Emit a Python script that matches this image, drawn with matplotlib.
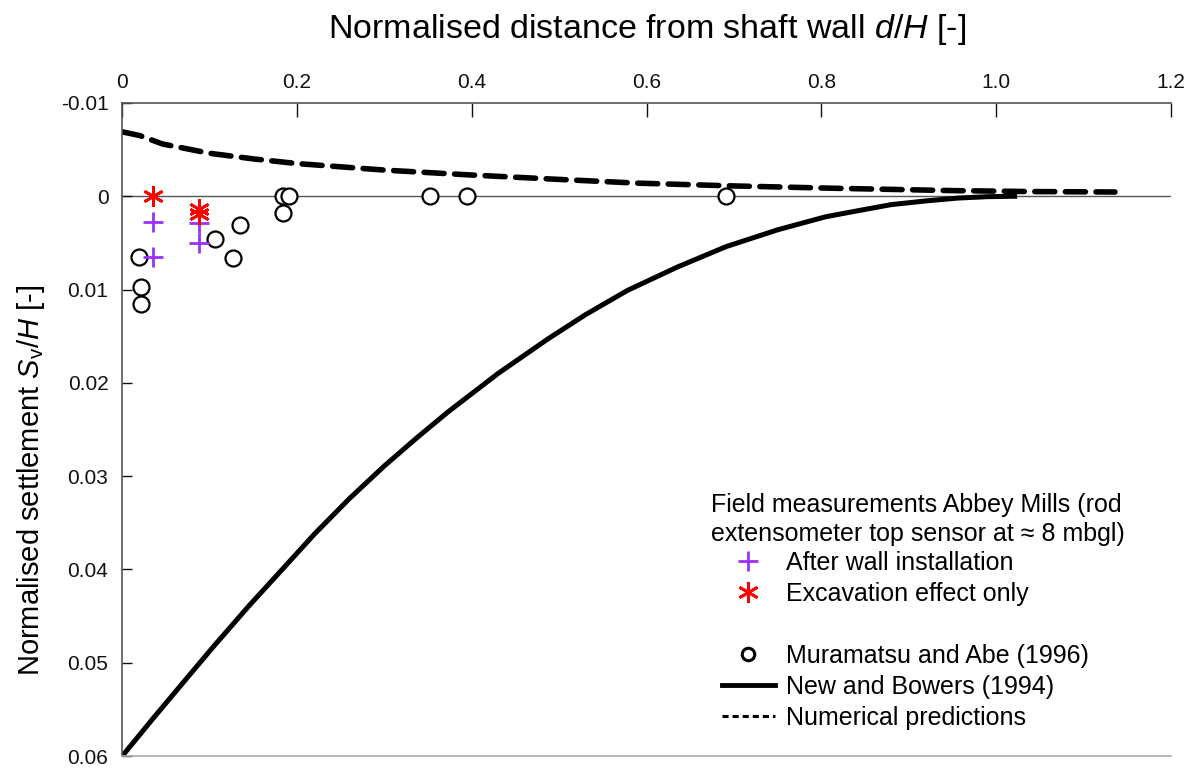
import matplotlib
matplotlib.use("Agg")
import matplotlib.pyplot as plt
from matplotlib.lines import Line2D

plt.rcParams['font.family'] = ['Liberation Sans', 'DejaVu Sans']
plt.rcParams['mathtext.fontset'] = 'custom'
plt.rcParams['mathtext.rm'] = 'Liberation Sans'
plt.rcParams['mathtext.it'] = 'Liberation Sans:italic'

# Muramatsu and Abe (1996)
mur_d = [0.0195, 0.0211, 0.0217, 0.106, 0.1263, 0.1347, 0.1842, 0.1907, 0.1842, 0.352, 0.394, 0.691]
mur_s = [0.0065, 0.0097, 0.0116, 0.0046, 0.0066, 0.0031, 0.0, 0.0, 0.0018, 0.0, 0.0, 0.0]

# Abbey Mills field data
wall_d = [0.0355, 0.0355, 0.0874, 0.0874]
wall_s = [0.0028, 0.0065, 0.0029, 0.0050]
exc_d = [0.0355, 0.0874, 0.0874]
exc_s = [0.0, 0.0014, 0.0019]

# New and Bowers (1994)
nb_d = [0.0, 0.035, 0.069, 0.105, 0.145, 0.185, 0.22, 0.26, 0.30, 0.337, 0.373, 0.43,
        0.487, 0.53, 0.578, 0.635, 0.691, 0.75, 0.805, 0.845, 0.88, 0.92, 0.956, 0.99, 1.024]
nb_s = [0.06, 0.0560, 0.0522, 0.0482, 0.0439, 0.0398, 0.0362, 0.0324, 0.0289, 0.0259, 0.0231, 0.0190,
        0.0153, 0.0127, 0.0101, 0.0076, 0.0054, 0.0036, 0.0022, 0.0015, 0.0009, 0.0005, 0.0002, 0.00005, 0.0]

# numerical predictions
num_d = [0.0, 0.02, 0.046, 0.1, 0.15, 0.2, 0.3, 0.394, 0.5, 0.59, 0.7, 0.816, 0.95, 1.04, 1.136]
num_s = [-0.0069, -0.0065, -0.0056, -0.0046, -0.0040, -0.0035, -0.0028, -0.0023, -0.0018,
         -0.0014, -0.0011, -0.00085, -0.0006, -0.0005, -0.00045]

xticks = [0, 0.2, 0.4, 0.6, 0.8, 1.0, 1.2]
xtick_labels = ['0', '0.2', '0.4', '0.6', '0.8', '1.0', '1.2']
yticks = [-0.01, 0, 0.01, 0.02, 0.03, 0.04, 0.05, 0.06]
ytick_labels = ['-0.01', '0', '0.01', '0.02', '0.03', '0.04', '0.05', '0.06']

purple = '#9B30FF'

fig = plt.figure(figsize=(11.94, 7.68), dpi=100)
ax = fig.add_axes([0.1024, 0.0156, 0.8783, 0.8504])

ax.axhline(0, color='#555555', lw=1.0, zorder=1)
ax.plot(nb_d, nb_s, color='black', lw=3.6, solid_capstyle='butt', solid_joinstyle='round', zorder=2)
ax.plot(num_d, num_s, color='black', lw=4.0, dashes=(3.6, 1.9), dash_capstyle='round', zorder=2)
ax.plot(mur_d, mur_s, 'o', ms=11.5, mfc='white', mec='black', mew=1.6, ls='none', zorder=3)
ax.plot(wall_d, wall_s, '+', ms=14, color=purple, mew=2.0, ls='none', zorder=4)
ax.plot(exc_d, exc_s, marker=(6, 2, 0), ms=15, color='red', mew=2.0, ls='none', zorder=5)

ax.set_xlim(0, 1.2)
ax.set_ylim(0.06, -0.01)
ax.set_xticks(xticks)
ax.set_xticklabels(xtick_labels)
ax.set_yticks(yticks)
ax.set_yticklabels(ytick_labels)
ax.xaxis.tick_top()
ax.tick_params(axis='x', direction='in', length=10, width=1, pad=8, labelsize=15, colors='#111111')
ax.tick_params(axis='y', direction='in', length=7, width=1, pad=10, labelsize=15, colors='#111111')
for s in ['left', 'top', 'bottom']:
    ax.spines[s].set_color('#555555')
    ax.spines[s].set_linewidth(1.2)
ax.spines['right'].set_visible(False)
ax.spines['bottom'].set_color('#aaaaaa')

fig.text(0.542, 0.961, 'Normalised distance from shaft wall $d/H$ [-]', ha='center', va='center', fontsize=24.5)
fig.text(0.026, 0.375, 'Normalised settlement $S_{\\mathrm{v}}/H$ [-]', ha='center', va='center',
         rotation=90, fontsize=21)

# legend heading, placed above the legend rows
ax.text(0.5615, 0.362, 'Field measurements Abbey Mills (rod\nextensometer top sensor at \u2248 8 mbgl)',
        transform=ax.transAxes, ha='left', va='center', fontsize=18, linespacing=1.24)

handles = [
    Line2D([], [], ls='none', marker='+', ms=14, color=purple, mew=2.0),
    Line2D([], [], ls='none', marker=(6, 2, 0), ms=15, color='red', mew=2.0),
    Line2D([], [], ls='none'),
    Line2D([], [], ls='none', marker='o', ms=9, mfc='white', mec='black', mew=2.2),
    Line2D([], [], color='black', lw=3.5),
    Line2D([], [], color='black', lw=2.2, dashes=(2, 1.3)),
]
labels = ['After wall installation', 'Excavation effect only', ' ',
          'Muramatsu and Abe (1996)', 'New and Bowers (1994)', 'Numerical predictions']
leg = ax.legend(handles, labels, loc='upper left', bbox_to_anchor=(0.572, 0.314),
                frameon=False, fontsize=18, handlelength=2.1, handletextpad=0.44,
                labelspacing=0.28, borderpad=0, borderaxespad=0)

fig.savefig('out.png', dpi=100)
